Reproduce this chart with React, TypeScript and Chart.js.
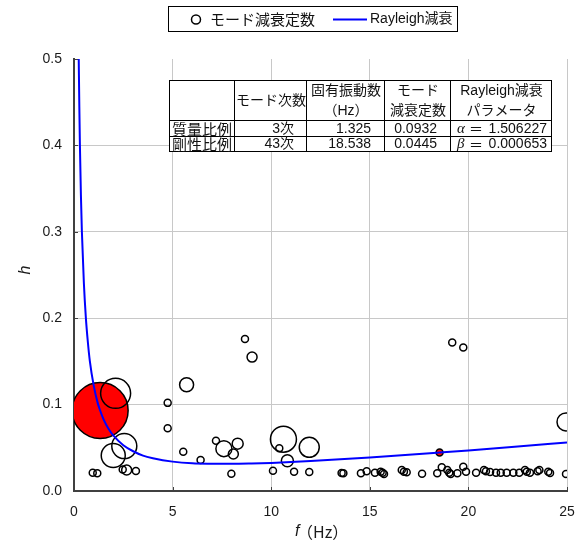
import React, { useEffect, useRef } from 'react';
import { Chart, registerables } from 'chart.js';

Chart.register(...registerables);

// ---------- data ----------
const seriesNames = ['モード減衰定数', 'Rayleigh減衰'];

// hollow bubbles: mode frequency (Hz), damping h, bubble size
const modeF = [
  0.95, 1.18, 2.11, 1.99, 2.55, 2.47, 2.67, 3.14, 4.75, 4.75,
  5.54, 5.71, 6.42, 7.2, 7.6, 8.3, 8.08, 7.98, 8.67, 9.03,
  10.09, 10.62, 10.41, 10.82, 11.93, 11.16, 11.93, 13.57, 13.66, 14.55,
  14.84, 15.26, 15.55, 15.65, 15.72, 16.62, 16.73, 16.87, 17.65, 18.42,
  18.65, 18.93, 19.03, 19.1, 19.44, 19.74, 19.88, 19.18, 19.74, 20.39,
  20.79, 20.89, 21.1, 21.4, 21.64, 21.94, 22.28, 22.58, 22.87, 22.96,
  23.12, 23.51, 23.6, 24.05, 24.14, 24.95, 24.95,
];
const modeH = [
  0.021, 0.0205, 0.113, 0.041, 0.052, 0.025, 0.0243, 0.0231, 0.102, 0.0725,
  0.0455, 0.123, 0.0359, 0.0582, 0.049, 0.0548, 0.0428, 0.02, 0.176, 0.155,
  0.0235, 0.06, 0.0494, 0.035, 0.0506, 0.0224, 0.022, 0.0208, 0.0205, 0.0205,
  0.0228, 0.0212, 0.0224, 0.0212, 0.0197, 0.0243, 0.0224, 0.0217, 0.02, 0.0205,
  0.0274, 0.0243, 0.0212, 0.0197, 0.0205, 0.0281, 0.0224, 0.172, 0.166, 0.0212,
  0.0243, 0.0228, 0.022, 0.0212, 0.0212, 0.0212, 0.0212, 0.0212, 0.0243, 0.0224,
  0.0212, 0.0228, 0.0243, 0.0224, 0.0208, 0.0197, 0.08,
];
const modeSize = [
  3.5, 3.5, 15, 12, 12.5, 3.5, 5, 3.5, 3.5, 3.5,
  3.5, 7, 3.5, 3.5, 8, 5.5, 5, 3.5, 3.5, 5,
  3.5, 13, 3.5, 6, 10, 3.5, 3.5, 3.5, 3.5, 3.5,
  3.5, 3.5, 3.5, 3.5, 3.5, 3.5, 3.5, 3.5, 3.5, 3.5,
  3.5, 3.5, 3.5, 3.5, 3.5, 3.5, 3.5, 3.5, 3.5, 3.5,
  3.5, 3.5, 3.5, 3.5, 3.5, 3.5, 3.5, 3.5, 3.5, 3.5,
  3.5, 3.5, 3.5, 3.5, 3.5, 3.5, 9,
];

// reference modes (mass / stiffness proportional), filled red
const keyF = [1.325, 18.538];
const keyH = [0.0932, 0.0445];
const keySize = [28, 3.5];

// Rayleigh damping curve
const curveF = [
  0.24, 0.27, 0.3, 0.35, 0.4, 0.5, 0.6, 0.7, 0.8, 1.0, 1.2, 1.325, 1.5, 1.75, 2,
  2.5, 3, 3.5, 4, 5, 6, 7, 8, 9, 10, 12, 15, 18.538, 20, 22.5, 25,
];
const curveH = [
  0.5, 0.445, 0.4, 0.343, 0.3, 0.241, 0.201, 0.173, 0.151, 0.122, 0.102, 0.0932, 0.083, 0.072, 0.064,
  0.053, 0.046, 0.041, 0.038, 0.034, 0.032, 0.0315, 0.0314, 0.0318, 0.0325, 0.0346, 0.0388, 0.0445, 0.047, 0.0515, 0.0561,
];

const xTickValues = [0, 5, 10, 15, 20, 25];
const yTickValues = [0, 0.1, 0.2, 0.3, 0.4, 0.5];
const xTitleItalic = 'f';
const xTitleRest = '（Hz）';
const yTitle = 'h';

// table
const tableHeader = [[''], ['モード次数'], ['固有振動数', '（Hz）'], ['モード', '減衰定数'], ['Rayleigh減衰', 'パラメータ']];
const tableRowLabels = ['質量比例', '剛性比例'];
const tableModes = ['3次', '43次'];
const tableFreq = ['1.325', '18.538'];
const tableDamp = ['0.0932', '0.0445'];
const tableParamSym = ['α', 'β'];
const tableParamVal = ['1.506227', '0.000653'];

const NUM_FONT = '"Liberation Sans", "Noto Sans CJK JP", sans-serif';
const CJK_FONT = '"Noto Sans CJK JP", "Liberation Sans", sans-serif';

const decoPlugin = {
  id: 'deco',
  beforeDatasetsDraw(chart: any) {
    const { ctx, chartArea: a, scales } = chart;
    ctx.save();
    ctx.strokeStyle = '#404040';
    ctx.lineWidth = 1;
    xTickValues.forEach((v) => {
      const px = Math.round(scales.x.getPixelForValue(v)) + 0.5;
      ctx.beginPath();
      ctx.moveTo(px, a.bottom);
      ctx.lineTo(px, a.bottom - 4);
      ctx.stroke();
    });
    yTickValues.forEach((v) => {
      const py = Math.round(scales.y.getPixelForValue(v)) + 0.5;
      ctx.beginPath();
      ctx.moveTo(a.left, py);
      ctx.lineTo(a.left + 4, py);
      ctx.stroke();
    });
    ctx.restore();
  },
  afterDraw(chart: any) {
    const { ctx, chartArea: a } = chart;
    ctx.save();

    // axis titles
    ctx.fillStyle = '#1a1a1a';
    ctx.textBaseline = 'middle';
    ctx.font = `italic 16px ${NUM_FONT}`;
    ctx.textAlign = 'left';
    const xt = 295;
    ctx.fillText(xTitleItalic, xt, 532);
    ctx.font = `16px ${CJK_FONT}`;
    ctx.fillText(xTitleRest, xt + 2, 532);

    ctx.save();
    ctx.translate(26, (a.top + a.bottom) / 2 - 5);
    ctx.rotate(-Math.PI / 2);
    ctx.textAlign = 'center';
    ctx.font = `italic 16px ${NUM_FONT}`;
    ctx.fillText(yTitle, 0, 0);
    ctx.restore();

    // legend
    ctx.fillStyle = '#ffffff';
    ctx.fillRect(168.5, 6.5, 289, 25);
    ctx.strokeStyle = '#000';
    ctx.lineWidth = 1;
    ctx.strokeRect(168.5, 6.5, 289, 25);
    ctx.beginPath();
    ctx.arc(196, 19.5, 4.5, 0, Math.PI * 2);
    ctx.lineWidth = 1.5;
    ctx.stroke();
    ctx.fillStyle = '#111';
    ctx.font = `15px ${CJK_FONT}`;
    ctx.textAlign = 'left';
    ctx.fillText(seriesNames[0], 210, 19.5);
    ctx.strokeStyle = '#0000ff';
    ctx.lineWidth = 2;
    ctx.beginPath();
    ctx.moveTo(333, 19.5);
    ctx.lineTo(367, 19.5);
    ctx.stroke();
    ctx.font = `14px ${NUM_FONT}`;
    ctx.fillText(seriesNames[1], 370, 19.5);

    // table
    const cols = [169, 234, 306, 384, 450, 551];
    const rows = [80, 120, 136, 151];
    ctx.fillStyle = '#fff';
    ctx.fillRect(cols[0], rows[0], cols[5] - cols[0], rows[3] - rows[0]);
    ctx.strokeStyle = '#000';
    ctx.lineWidth = 1;
    ctx.strokeRect(cols[0] + 0.5, rows[0] + 0.5, cols[5] - cols[0], rows[3] - rows[0]);
    cols.slice(1, 5).forEach((c) => {
      ctx.beginPath();
      ctx.moveTo(c + 0.5, rows[0]);
      ctx.lineTo(c + 0.5, rows[3]);
      ctx.stroke();
    });
    rows.slice(1, 3).forEach((r) => {
      ctx.beginPath();
      ctx.moveTo(cols[0], r + 0.5);
      ctx.lineTo(cols[5], r + 0.5);
      ctx.stroke();
    });
    ctx.fillStyle = '#111';
    ctx.font = `14px ${NUM_FONT}`;
    ctx.textAlign = 'center';
    tableHeader.forEach((lines, i) => {
      const cx = (cols[i] + cols[i + 1]) / 2 + 1;
      if (lines.length === 1) {
        ctx.fillText(lines[0], cx, 101);
      } else {
        ctx.fillText(lines[0], cx, 91);
        ctx.fillText(lines[1], cx, 111);
      }
    });
    for (let r = 0; r < 2; r++) {
      const cy = (rows[r + 1] + rows[r + 2]) / 2 + 1;
      ctx.textAlign = 'left';
      ctx.font = `15px ${CJK_FONT}`;
      ctx.fillText(tableRowLabels[r], cols[0] + 3, cy);
      ctx.font = `14px ${NUM_FONT}`;
      ctx.textAlign = 'right';
      ctx.fillText(tableModes[r], cols[2] - 12, cy);
      ctx.fillText(tableFreq[r], cols[3] - 13, cy);
      ctx.fillText(tableDamp[r], cols[4] - 13, cy);
      ctx.fillText(tableParamVal[r], cols[5] - 4, cy);
      ctx.textAlign = 'left';
      ctx.font = `italic 15px "Liberation Serif", serif`;
      ctx.fillText(tableParamSym[r], cols[4] + 7, cy);
      ctx.font = `14px ${CJK_FONT}`;
      ctx.fillText('＝', cols[4] + 19, cy);
      ctx.font = `14px ${NUM_FONT}`;
    }
    ctx.restore();
  },
};

export default function App() {
  const ref = useRef<HTMLCanvasElement | null>(null);

  useEffect(() => {
    if (!ref.current) return;
    const gridColor = '#c8c8c8';
    const chart = new Chart(ref.current, {
      type: 'bubble',
      data: {
        datasets: [
          {
            type: 'line',
            label: seriesNames[1],
            data: curveF.map((f, i) => ({ x: f, y: curveH[i] })),
            borderColor: '#0000ff',
            borderWidth: 2,
            pointRadius: 0,
            cubicInterpolationMode: 'monotone',
            fill: false,
            clip: 0,
          } as any,
          {
            label: seriesNames[0],
            data: modeF.map((f, i) => ({ x: f, y: modeH[i], r: modeSize[i] })),
            backgroundColor: 'rgba(255,255,255,0)',
            borderColor: '#000',
            borderWidth: 1.5,
            clip: 0,
          },
          {
            label: 'key',
            data: keyF.map((f, i) => ({ x: f, y: keyH[i], r: keySize[i] })),
            backgroundColor: '#ff0000',
            borderColor: '#000',
            borderWidth: 1.5,
            clip: 0,
          },
        ],
      },
      options: {
        responsive: false,
        animation: false,
        events: [],
        layout: { autoPadding: false, padding: { top: 59, right: 17, left: 0, bottom: 0 } },
        plugins: {
          legend: { display: false },
          tooltip: { enabled: false },
        },
        scales: {
          x: {
            type: 'linear',
            min: 0,
            max: 25,
            afterFit: (s: any) => { s.height = 60; s.paddingLeft = 0; s.paddingRight = 0; },
            afterBuildTicks: (s: any) => { s.ticks = xTickValues.map((v) => ({ value: v })); },
            ticks: {
              padding: 13,
              color: '#1a1a1a',
              font: { family: NUM_FONT, size: 14 },
              callback: (v: any) => String(v),
            },
            grid: {
              drawTicks: false,
              color: (c: any) => (c.tick && c.tick.value === 0 ? 'rgba(0,0,0,0)' : gridColor),
              lineWidth: 1,
            },
            border: { display: true, color: '#404040', width: 2 },
          },
          y: {
            type: 'linear',
            min: 0,
            max: 0.5,
            afterFit: (s: any) => { s.width = 74; s.paddingTop = 0; s.paddingBottom = 0; },
            afterBuildTicks: (s: any) => { s.ticks = yTickValues.map((v) => ({ value: v })); },
            ticks: {
              padding: 12,
              color: '#1a1a1a',
              font: { family: NUM_FONT, size: 14 },
              callback: (v: any) => Number(v).toFixed(1),
            },
            grid: {
              drawTicks: false,
              color: (c: any) =>
                c.tick && (c.tick.value === 0 || c.tick.value === 0.5) ? 'rgba(0,0,0,0)' : gridColor,
              lineWidth: 1,
            },
            border: { display: true, color: '#404040', width: 2 },
          },
        },
      },
      plugins: [decoPlugin],
    });
    return () => chart.destroy();
  }, []);

  return (
    <div style={{ position: 'absolute', left: 0, top: 0, width: 584, height: 551, background: '#fff' }}>
      <canvas ref={ref} width={584} height={551} style={{ display: 'block' }} />
    </div>
  );
}
